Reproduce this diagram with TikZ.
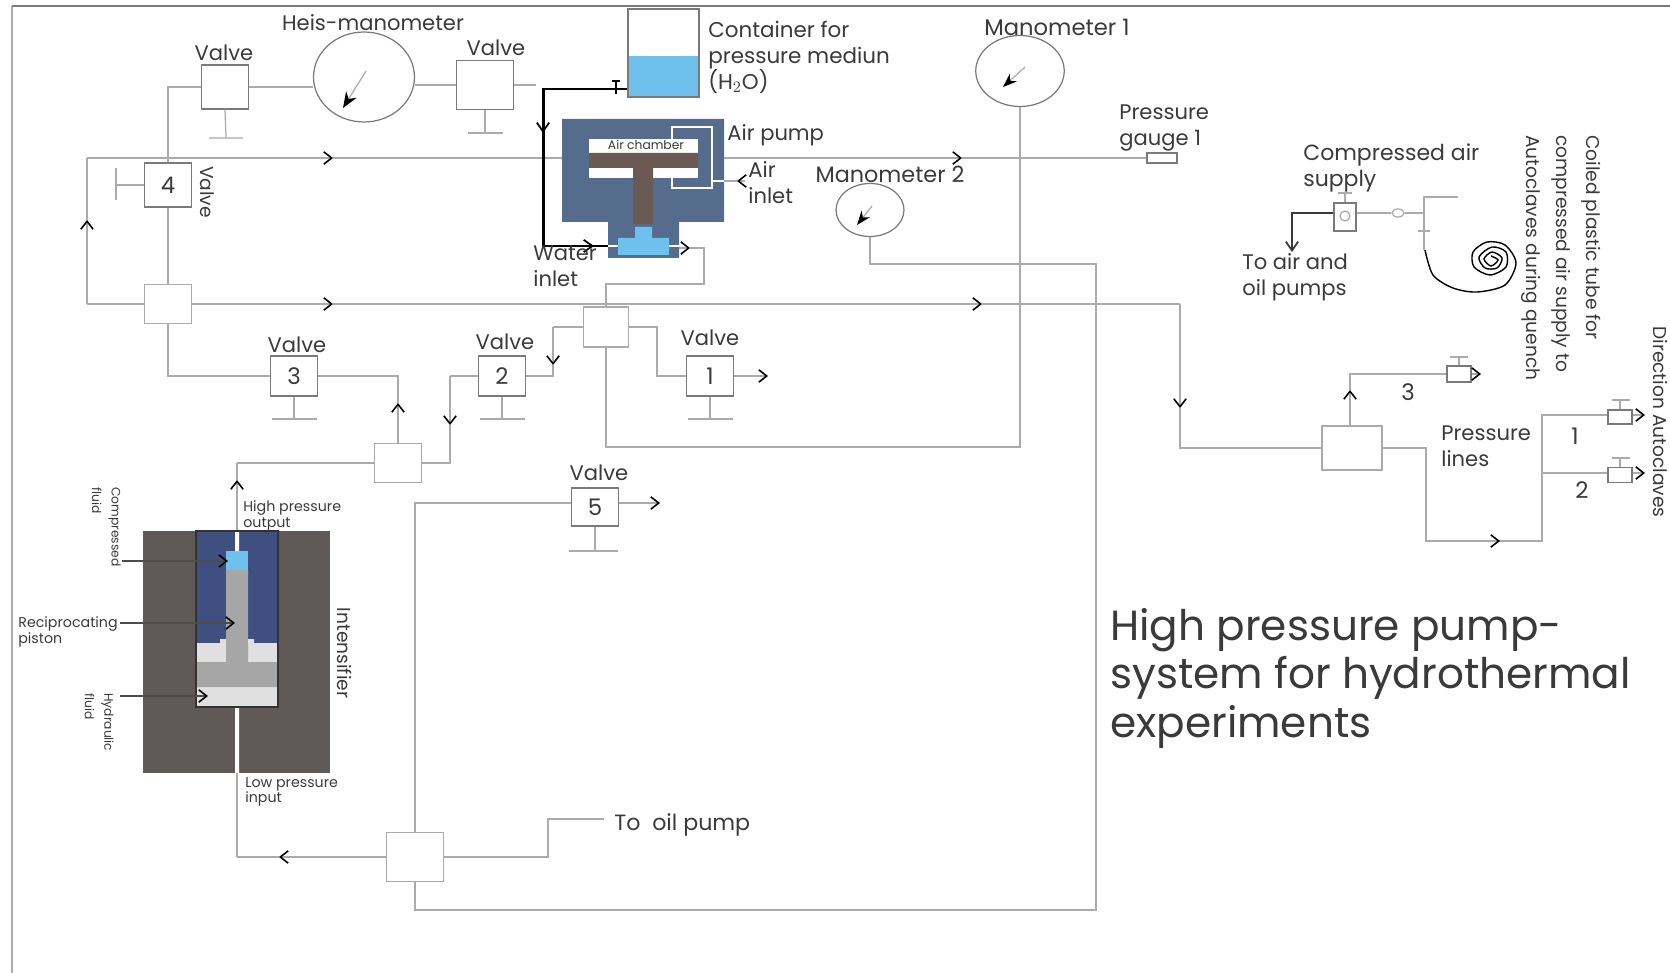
\documentclass[tikz,border=0pt]{standalone}
\usepackage{fontspec}
\usepackage{tikz}
\usepackage{xcolor}
\setmainfont{Poppins}
\usetikzlibrary{arrows.meta,shapes.geometric}
\definecolor{pipecol}{HTML}{ABABAB}
\definecolor{boxcol}{HTML}{7A7A7A}
\definecolor{inkcol}{HTML}{3A3A3A}
\definecolor{slate}{HTML}{566C8C}
\definecolor{water}{HTML}{6EC1EC}
\definecolor{brown}{HTML}{6B5A54}
\definecolor{wall}{HTML}{5F5A58}
\definecolor{navy}{HTML}{3F5080}
\tikzset{
  x=0.02cm,y=-0.02cm,
  pipe/.style={draw=pipecol,line width=0.7pt},
  flow/.style={pipe,-{Straight Barb[color=black,length=4.5pt,width=7pt,line width=0.9pt]}},
  heavy/.style={draw=black,line width=1.7pt},
  stem/.style={draw=pipecol,line width=0.7pt},
  valve/.style={draw=boxcol,line width=0.7pt,inner sep=0pt,minimum width=0.93cm,minimum height=0.8cm,text=inkcol,font=\fontsize{13}{15}\selectfont},
  hub/.style={draw=pipecol,line width=0.7pt,inner sep=0pt},
  dial/.style={ellipse,draw=boxcol,line width=0.7pt,inner sep=0pt},
  lab/.style={text=inkcol,inner sep=0pt,align=left,font=\fontsize{12}{14.8}\selectfont},
  tiny/.style={text=inkcol,inner sep=0pt,align=left,font=\fontsize{8.1}{8.8}\selectfont},
  side/.style={text=inkcol,inner sep=0pt,align=left,font=\fontsize{10.6}{17}\selectfont},
  sidetiny/.style={text=inkcol,inner sep=0pt,align=left,font=\fontsize{7}{11}\selectfont},
}
\begin{document}
\begin{tikzpicture}
\useasboundingbox (0,0) rectangle (1670,973);
\draw[draw=pipecol,line width=0.7pt] (12,973) -- (12,6);
\draw[draw=boxcol,line width=0.7pt] (12,6) -- (1670,6);
\node[valve,minimum width=0.94cm,minimum height=0.88cm] (valvetop) at (225,87) {};
\node[valve,minimum width=1.14cm,minimum height=0.98cm] (valveright) at (485,85) {};
\node[valve,minimum width=0.93cm,minimum height=0.88cm] (valvefour) at (168,185) {4};
\node[valve] (valvethree) at (294,376) {3};
\node[valve] (valvetwo) at (502,376) {2};
\node[valve] (valveone) at (710,376) {1};
\node[valve,minimum height=0.76cm] (valvefive) at (595,507) {5};
\node[hub,minimum width=0.94cm,minimum height=0.78cm] (hubmain) at (168,304) {};
\node[hub,minimum width=0.9cm,minimum height=0.8cm] (hubvalve) at (606,327) {};
\node[hub,minimum width=0.94cm,minimum height=0.78cm] (hubleft) at (398,463) {};
\node[hub,minimum width=1.14cm,minimum height=0.98cm] (huboil) at (415,857) {};
\node[hub,minimum width=1.2cm,minimum height=0.88cm] (hubright) at (1352,448) {};
\node[dial,minimum width=2.02cm,minimum height=1.8cm] (heis) at (364,77) {};
\node[dial,minimum width=1.36cm,minimum height=1.06cm] (mantwo) at (870,210) {};
\node[dial,minimum width=1.77cm,minimum height=1.42cm] (manone) at (1020,71) {};
\node[draw=boxcol,line width=0.7pt,inner sep=0pt,minimum width=0.6cm,minimum height=0.2cm] (gaugeone) at (1162,158) {};
\node[draw=boxcol,line width=0.7pt,inner sep=0pt,minimum width=0.44cm,minimum height=0.56cm] (airvalve) at (1345,217) {};
\node[draw=pipecol,line width=0.7pt,circle,inner sep=0pt,minimum size=0.2cm] (airdot) at (1345,216) {};
\node[draw=pipecol,line width=0.7pt,ellipse,inner sep=0pt,minimum width=0.24cm,minimum height=0.16cm] (airring) at (1398,213) {};
\node[draw=boxcol,line width=0.7pt,inner sep=0pt,minimum width=0.48cm,minimum height=0.32cm] (linethree) at (1459,374) {};
\node[draw=boxcol,line width=0.7pt,inner sep=0pt,minimum width=0.48cm,minimum height=0.28cm] (lineone) at (1620,417) {};
\node[draw=boxcol,line width=0.7pt,inner sep=0pt,minimum width=0.48cm,minimum height=0.3cm] (linetwo) at (1620,475) {};
\coordinate (lefttop) at (87,158);
\coordinate (flowup) at (87,220);
\coordinate (flowtop) at (333,158);
\coordinate (flowtopb) at (962,158);
\coordinate (flowmid) at (333,304);
\coordinate (flowmidb) at (982,304);
\coordinate (turnright) at (1180,304);
\coordinate (flowdown) at (1180,408);
\coordinate (turnlow) at (1180,448);
\coordinate (flowtwo) at (553,365);
\coordinate (turntwo) at (553,327);
\coordinate (flowtwob) at (450,425);
\coordinate (turntwob) at (450,376);
\coordinate (flowthree) at (398,403);
\coordinate (turnthree) at (398,376);
\coordinate (flowout) at (237,480);
\coordinate (topout) at (237,463);
\coordinate (intop) at (237,531);
\coordinate (inbot) at (237,773);
\coordinate (turnin) at (237,857);
\coordinate (flowin) at (279,857);
\coordinate (oilturn) at (548,819);
\coordinate (oilend) at (604,819);
\coordinate (fiveline) at (415,503);
\coordinate (endfive) at (660,503);
\coordinate (endone) at (768,376);
\coordinate (turnone) at (657,350);
\coordinate (turnbot) at (415,910);
\coordinate (turnbotb) at (1096,910);
\coordinate (turnbotc) at (1096,264);
\coordinate (turnbotd) at (870,264);
\coordinate (manturn) at (1020,447);
\coordinate (manturnb) at (606,447);
\coordinate (hubup) at (606,284);
\coordinate (hubupb) at (704,284);
\coordinate (hubupc) at (704,248);
\coordinate (pumpout) at (668,248);
\coordinate (pumptip) at (690,248);
\coordinate (topline) at (536,85);
\coordinate (flowrise) at (1350,390);
\coordinate (flowlow) at (1500,541);
\coordinate (turnlowb) at (1426,448);
\coordinate (turnlowc) at (1426,541);
\coordinate (turnlowd) at (1542,541);
\coordinate (splitone) at (1542,415);
\coordinate (splittwo) at (1542,473);
\coordinate (tipthree) at (1481,374);
\coordinate (tipone) at (1645,415);
\coordinate (tiptwo) at (1645,473);
\coordinate (airdown) at (1292,213);
\coordinate (airend) at (1292,252);
\coordinate (tubetop) at (1424,197);
\coordinate (tubeend) at (1458,197);
\coordinate (tubecoil) at (1424,250);
\coordinate (tubejoin) at (1424,213);
\draw[pipe] (valvefour.north) |- (valvetop.west);
\draw[pipe] (valvetop.east) -- (valvetop.east -| heis.west);
\draw[pipe] (valveright.west -| heis.east) -- (valveright.west);
\draw[pipe] (valveright.east) -- (topline);
\draw[pipe] (valvefour.south) -- (hubmain.north);
\draw[flow] (hubmain.west -| lefttop) -- (flowup);
\draw[pipe] (hubmain.west) -- (hubmain.west -| lefttop);
\draw[pipe] (flowup) -- (lefttop);
\draw[flow] (lefttop) -- (flowtop);
\draw[flow] (flowtop) -- (flowtopb);
\draw[pipe] (flowtopb) -- (gaugeone.west);
\draw[flow] (hubmain.east) -- (flowmid);
\draw[flow] (flowmid) -- (flowmidb);
\draw[pipe] (flowmidb) -- (turnright);
\draw[flow] (turnright) -- (flowdown);
\draw[pipe] (flowdown) -- (turnlow) -- (hubright.west);
\draw[pipe] (hubmain.south) |- (valvethree.west);
\draw[pipe] (valvethree.east) -- (turnthree) -- (flowthree);
\draw[flow] (hubleft.north) -- (flowthree);
\draw[pipe] (hubleft.west) -- (topout);
\draw[flow] (intop) -- (flowout);
\draw[pipe] (flowout) -- (topout);
\draw[pipe] (hubleft.east) -| (flowtwob);
\draw[flow] (turntwob) -- (flowtwob);
\draw[pipe] (turntwob) -- (valvetwo.west);
\draw[pipe] (valvetwo.east) -| (flowtwo);
\draw[flow] (turntwo) -- (flowtwo);
\draw[pipe] (turntwo) -- (hubvalve.west);
\draw[pipe] (hubvalve.east) -| (turnone) |- (valveone.west);
\draw[flow] (valveone.east) -- (endone);
\draw[pipe] (hubvalve.north) -- (hubup) -- (hubupb) -- (hubupc) -- (pumptip);
\draw[flow] (pumpout) -- (pumptip);
\draw[pipe] (hubvalve.south) -- (manturnb) -- (manturn) -- (manone.south);
\draw[pipe] (inbot) -- (turnin);
\draw[flow] (huboil.west) -- (flowin);
\draw[pipe] (flowin) -- (turnin);
\draw[pipe] (huboil.east) -| (oilturn) -- (oilend);
\draw[pipe] (huboil.north) -- (fiveline) -- (valvefive.west |- fiveline);
\draw[flow] (valvefive.east |- endfive) -- (endfive);
\draw[pipe] (huboil.south) -- (turnbot) -- (turnbotb) -- (turnbotc) -- (turnbotd) -- (mantwo.south);
\draw[flow] (hubright.north -| flowrise) -- (flowrise);
\draw[pipe] (flowrise) |- (linethree.west);
\draw[flow] (linethree.east) -- (tipthree);
\draw[pipe] (hubright.east) -- (turnlowb) -- (turnlowc) -- (flowlow);
\draw[flow] (turnlowc) -- (flowlow);
\draw[pipe] (flowlow) -- (turnlowd) -- (splitone) -- (lineone.west |- splitone);
\draw[pipe] (splittwo) -- (linetwo.west |- splittwo);
\draw[flow] (lineone.east |- tipone) -- (tipone);
\draw[flow] (linetwo.east |- tiptwo) -- (tiptwo);
\draw[pipe] (airvalve.east |- airring) -- (airring.west);
\draw[pipe] (airring.east) -- (tubejoin);
\draw[pipe] (tubeend) -- (tubetop) -- (tubecoil);
\draw[draw=inkcol,line width=1pt,-{Straight Barb[length=5pt,width=7pt]}] (airvalve.west |- airdown) -- (airdown) -- (airend);
\draw[draw=black,line width=0.8pt] plot[smooth] coordinates {(1425,250) (1433,275) (1453,288) (1477,292) (1505,285) (1516,263) (1505,245) (1487,242) (1473,252) (1474,267) (1490,275) (1506,267) (1506,252) (1492,247) (1479,257) (1485,268) (1497,268) (1502,258) (1492,252) (1484,259) (1491,266) (1498,260) (1491,256)};
\draw[stem] (valvetop.south) -- (226,138) (209,138) -- (243,138);
\draw[stem] (valveright.south) -- (485,133) (468,133) -- (503,133);
\draw[stem] (valvefour.west) -- (116,185) (116,168) -- (116,200);
\draw[stem] (valvethree.south) -- (294,419) (272,419) -- (317,419);
\draw[stem] (valvetwo.south) -- (502,419) (480,419) -- (525,419);
\draw[stem] (valveone.south) -- (710,419) (688,419) -- (733,419);
\draw[stem] (valvefive.south) -- (595,551) (569,551) -- (618,551);
\draw[stem] (airvalve.north) -- (1345,193) (1338,193) -- (1352,193);
\draw[stem] (linethree.north) -- (1459,357) (1450,357) -- (1468,357);
\draw[stem] (lineone.north) -- (1620,400) (1612,400) -- (1630,400);
\draw[stem] (linetwo.north) -- (1620,458) (1612,458) -- (1630,458);
\draw[stem] (1418,231) -- (1430,231);
\draw[pipe,-{Stealth[color=black,length=9pt,width=7pt]}] (366,71) -- (343,108);
\draw[pipe,-{Stealth[color=black,length=8pt,width=6pt]}] (1025,67) -- (1003,87);
\draw[pipe,-{Stealth[color=black,length=8pt,width=6pt]}] (872,206) -- (857,225);
\fill[water] (628,56) rectangle (699,97);
\node[draw=boxcol,line width=0.7pt,inner sep=0pt,minimum width=1.42cm,minimum height=1.76cm] (tank) at (663.5,53) {};
\fill[slate] (562,119) rectangle (724,222) (608,222) rectangle (679,258);
\fill[white] (589,139) rectangle (698,178);
\draw[white,line width=1.1pt] (672,178) -- (672,188) -- (712,188) -- (712,127) -- (672,127) -- (672,139);
\fill[brown] (589,153) rectangle (698,168) (633,168) rectangle (653,224);
\fill[water] (618,238) rectangle (669,255) (635,227) rectangle (652,238);
\draw[white,line width=1.1pt] (712,181) -- (724,181) (608,246) -- (618,246) (669,246) -- (679,246);
\node[tiny,font=\fontsize{7}{8}\selectfont] (chamberlab) at (646,145) {Air chamber};
\coordinate (airtip) at (737,181);
\coordinate (airfree) at (745,181);
\coordinate (airedge) at (724,181);
\draw[flow] (airfree) -- (airtip);
\draw[pipe] (airtip) -- (airedge);
\coordinate (wateracross) at (543,89);
\coordinate (waterdown) at (543,133);
\coordinate (waterabove) at (543,120);
\coordinate (watercorner) at (543,246);
\coordinate (waterright) at (594,246);
\coordinate (waterleft) at (575,246);
\coordinate (waterin) at (608,246);
\draw[heavy] (tank.west |- wateracross) -- (wateracross) -- (watercorner) -- (waterin);
\draw[draw=black,line width=1pt,-{Straight Barb[length=5pt,width=7pt]}] (waterabove) -- (waterdown);
\draw[draw=black,line width=1pt,-{Straight Barb[length=5pt,width=7pt]}] (waterleft) -- (waterright);
\draw[draw=black,line width=0.8pt] (616,81) -- (616,94) (612,81) -- (620,81);
\fill[wall] (143,531) rectangle (330,773);
\fill[navy] (196,531) rectangle (278,643);
\fill[black!12] (196,643) rectangle (278,707);
\fill[black!35] (196,662) rectangle (278,687) (226,570) rectangle (248,662);
\fill[black!12] (220,639) rectangle (226,643) (248,639) rectangle (254,643);
\fill[water] (226,551) rectangle (248,570);
\fill[white] (235,531) rectangle (239,551) (235,707) rectangle (239,773);
\draw[draw=black!80,line width=0.9pt] (196,531) rectangle (278,707);
\coordinate (fluidstart) at (122,561);
\coordinate (fluidtip) at (228,561);
\coordinate (pistonstart) at (120,623);
\coordinate (pistontip) at (235,623);
\coordinate (hydrostart) at (120,696);
\coordinate (hydrotip) at (208,696);
\draw[flow,draw=black!70] (fluidstart) -- (fluidtip);
\draw[flow,draw=black!70] (pistonstart) -- (pistontip);
\draw[flow,draw=black!70] (hydrostart) -- (hydrotip);
\node[lab] (heislab) at (373,23) {Heis-manometer};
\node[lab] (valvea) at (224,53) {Valve};
\node[lab] (valveb) at (496,48) {Valve};
\node[side,rotate=-90] (valvec) at (207,192) {Valve};
\node[lab] (valved) at (297,345) {Valve};
\node[lab] (valvee) at (505,342) {Valve};
\node[lab] (valvef) at (710,338) {Valve};
\node[lab] (valveg) at (599,473) {Valve};
\node[lab,anchor=west,font=\fontsize{12.2}{14.8}\selectfont] (tanklab) at (708,57) {Container for\\pressure mediun\\(H$_2$O)};
\node[lab,anchor=west] (pumplab) at (727,135) {Air pump};
\node[lab,anchor=west] (airlab) at (748,183) {Air\\inlet};
\node[lab,anchor=west] (waterlab) at (533,266) {Water\\inlet};
\node[lab,font=\fontsize{12.7}{15}\selectfont] (manlabtwo) at (890,174) {Manometer 2};
\node[lab,font=\fontsize{12.9}{15}\selectfont] (manlabone) at (1057,27) {Manometer 1};
\node[lab,anchor=west] (gaugelab) at (1119,128) {Pressure\\gauge 1};
\node[lab,anchor=west,font=\fontsize{12.5}{14.8}\selectfont] (supplylab) at (1303,168) {Compressed air\\supply};
\node[lab,anchor=west] (airpumplab) at (1242,277) {To air and\\oil pumps};
\node[side,anchor=north west,rotate=-90] (coillab) at (1601,135) {Coiled plastic tube for\\compressed air supply to\\Autoclaves during quench};
\node[side,anchor=north west,rotate=-90] (dirlab) at (1668,326) {Direction Autoclaves};
\node[lab,font=\fontsize{13}{15}\selectfont] (numthree) at (1408,392) {3};
\node[lab,font=\fontsize{13}{15}\selectfont] (numone) at (1575,436) {1};
\node[lab,font=\fontsize{13}{15}\selectfont] (numtwo) at (1582,490) {2};
\node[lab,anchor=west] (lineslab) at (1441,446) {Pressure\\lines};
\node[lab,anchor=west,font=\fontsize{12.6}{15}\selectfont] (oillab) at (614,825) {To\ \ oil pump};
\node[side,rotate=-90] (intenslab) at (345,653) {Intensifier};
\node[tiny,anchor=west] (highlab) at (243,516) {High pressure\\output};
\node[tiny,anchor=west] (lowlab) at (245,792) {Low pressure\\input};
\node[tiny,anchor=west] (pistonlab) at (18,632) {Reciprocating\\piston};
\node[sidetiny,anchor=north west,rotate=-90] (fluidlab) at (121,487) {Compressed\\fluid};
\node[sidetiny,anchor=north west,rotate=-90] (hydrolab) at (114,693) {Hydraulic\\fluid};
\node[lab,anchor=west,font=\fontsize{24}{27.6}\selectfont] (titlelab) at (1110,678) {High pressure pump-\\system for hydrothermal\\experiments};
\end{tikzpicture}
\end{document}
